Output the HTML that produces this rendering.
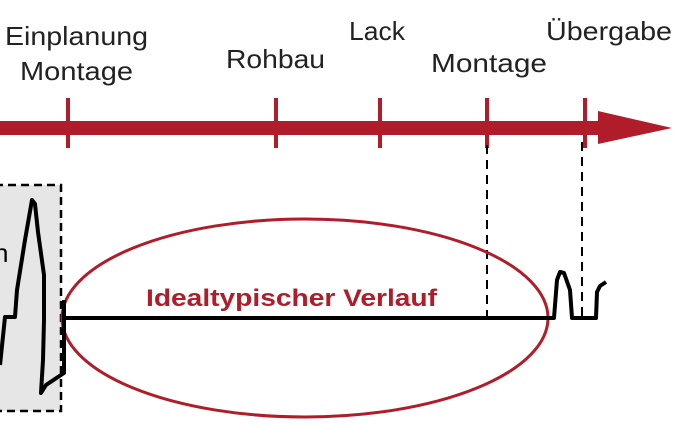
<!DOCTYPE html>
<html><head><meta charset="utf-8"><style>html,body{margin:0;padding:0;background:#fff}</style></head>
<body>
<svg width="678" height="421" viewBox="0 0 678 421" xmlns="http://www.w3.org/2000/svg" font-family="Liberation Sans, sans-serif">
<rect x="-5" y="185" width="66" height="226" fill="#e6e6e6" stroke="#000" stroke-width="2.5" stroke-dasharray="8,5"/>
<text x="-6" y="262" font-size="26" fill="#000">n</text>
<g fill="#b01c2a">
<rect x="0" y="121" width="602" height="14"/>
<polygon points="598,111 672,128 598,144"/>
<rect x="66" y="98" width="4" height="50"/>
<rect x="274" y="98" width="4" height="50"/>
<rect x="378" y="98" width="4" height="50"/>
<rect x="485" y="98" width="4" height="50"/>
<rect x="583" y="98" width="4" height="50"/>
</g>
<g stroke="#000" stroke-width="2" stroke-dasharray="9,6">
<line x1="487" y1="145" x2="487" y2="318"/>
<line x1="582" y1="142" x2="582" y2="318"/>
</g>
<ellipse cx="305" cy="318" rx="243" ry="99" fill="none" stroke="#b01c2a" stroke-width="3"/>
<g fill="none" stroke="#000" stroke-width="4" stroke-linejoin="round">
<line x1="62" y1="318" x2="549" y2="318"/>
<polyline points="549,318 554,318 557,280 560,272 564,273 570,290 572,318 596,318 597,292 600,286 606,282"/>
<polyline points="0,365 5,317 15,317 17,290 25,240 32,200 35,204 38,232 44,275 44,320 43,360 41,393 46,385 64,373 64,300"/>
</g>
<g font-size="26" fill="#222" lengthAdjust="spacingAndGlyphs">
<text x="5" y="45" textLength="143" lengthAdjust="spacingAndGlyphs">Einplanung</text>
<text x="20" y="80" textLength="113" lengthAdjust="spacingAndGlyphs">Montage</text>
<text x="226" y="68" textLength="99" lengthAdjust="spacingAndGlyphs">Rohbau</text>
<text x="349" y="40" textLength="56" lengthAdjust="spacingAndGlyphs">Lack</text>
<text x="431" y="72" textLength="116" lengthAdjust="spacingAndGlyphs">Montage</text>
<text x="546" y="40" textLength="126" lengthAdjust="spacingAndGlyphs">Übergabe</text>
</g>
<text x="146" y="306" font-size="24" font-weight="bold" fill="#b01c2a" textLength="291" lengthAdjust="spacingAndGlyphs">Idealtypischer Verlauf</text>
</svg>
</body></html>
